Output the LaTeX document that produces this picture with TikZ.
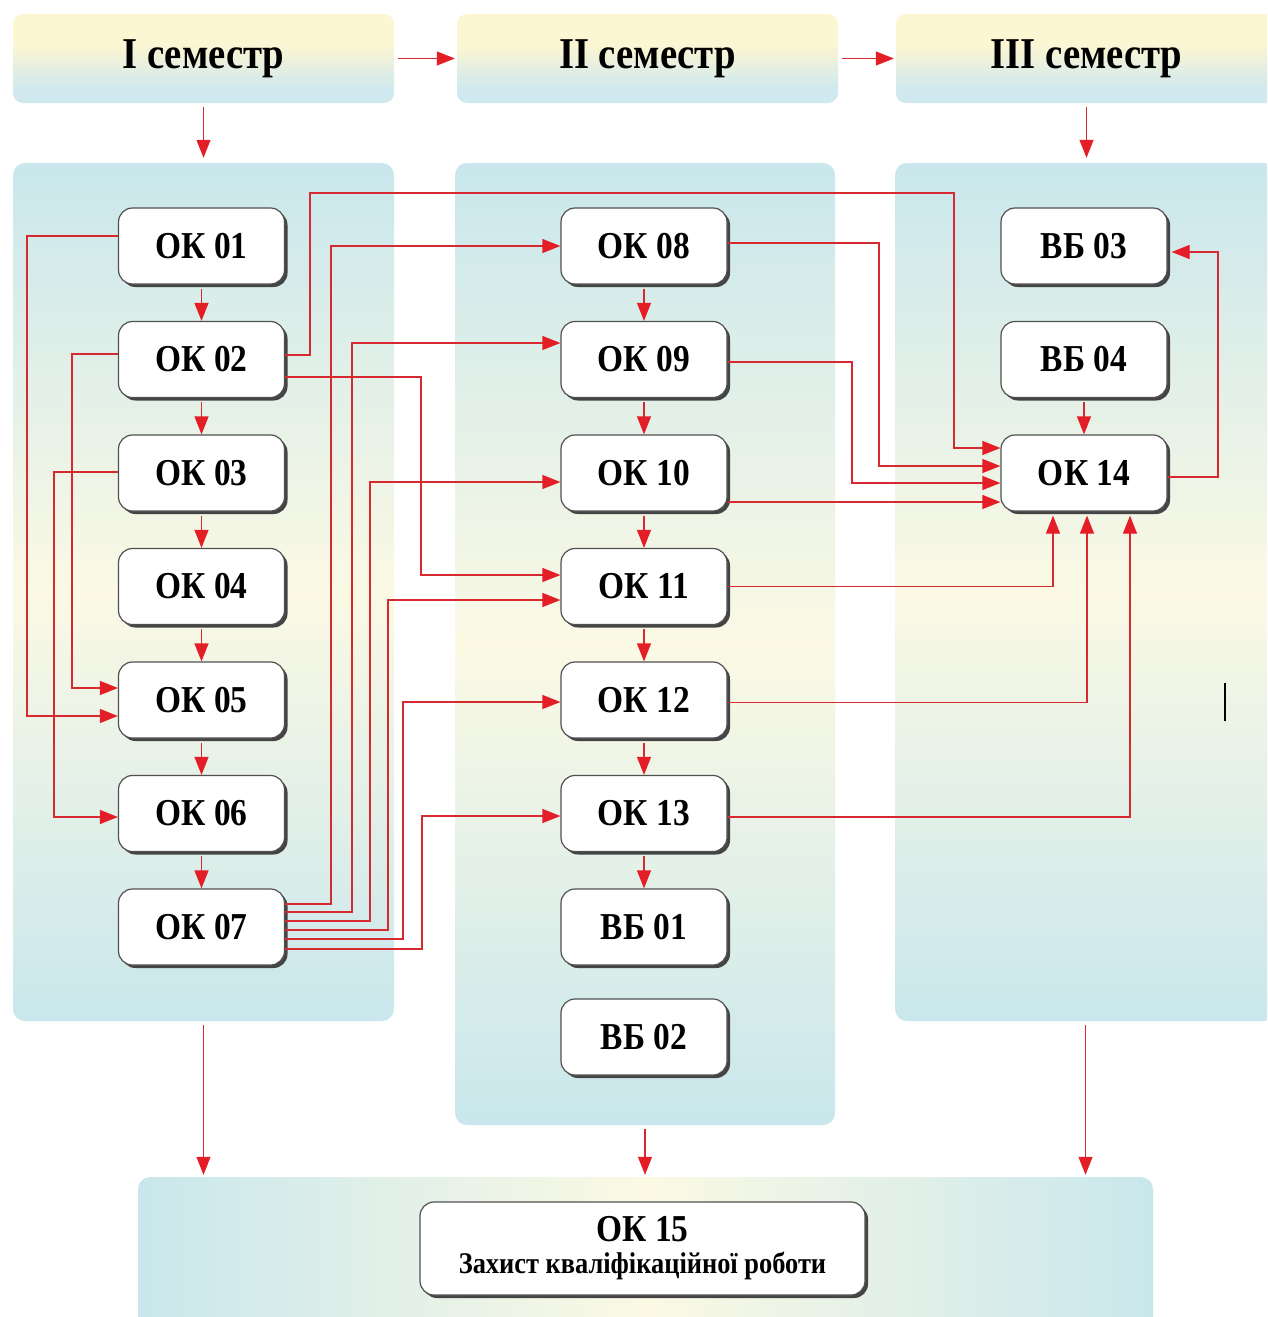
\documentclass[tikz,border=0pt]{standalone}
\usepackage{fontspec}
\setmainfont{Liberation Serif}[FakeStretch=0.88]
\usetikzlibrary{arrows.meta,shadows,calc}
\definecolor{hyel}{HTML}{FDF6D2}
\definecolor{hblu}{HTML}{CFE9EE}
\definecolor{pblu}{HTML}{C9E7EC}
\definecolor{pyel}{HTML}{FBF9E4}
\definecolor{lred}{HTML}{D62A30}
\definecolor{tred}{HTML}{E41E26}
\definecolor{bord}{HTML}{505050}
\pgfdeclareverticalshading{hdrshade}{100bp}{color(0bp)=(hblu); color(33bp)=(hblu); color(58bp)=(hyel); color(100bp)=(hyel)}
\pgfdeclareverticalshading{panshade}{100bp}{color(0bp)=(pblu); color(25bp)=(pblu); color(50bp)=(pyel); color(75bp)=(pblu); color(100bp)=(pblu)}
\pgfdeclarehorizontalshading{botshade}{100bp}{color(0bp)=(pblu); color(25bp)=(pblu); color(50bp)=(pyel); color(75bp)=(pblu); color(100bp)=(pblu)}
\tikzset{
  box/.style={draw=bord, line width=1.2pt, fill=white, rounded corners=14pt,
    minimum width=166pt, minimum height=76pt, inner sep=0pt,
    font=\fontsize{38}{40}\selectfont\bfseries,
    general shadow={fill=bord!85!black, shadow xshift=3pt, shadow yshift=-3pt}},
  hdr/.style={shading=hdrshade, rounded corners=10pt, minimum width=381pt,
    minimum height=89pt, inner sep=0pt, font=\fontsize{44}{48}\selectfont\bfseries},
  panel/.style={shading=panshade, rounded corners=12pt, inner sep=0pt, minimum width=381pt},
  conn/.style={draw=lred, line width=1.2pt, -{Triangle[length=18pt,width=14pt,color=tred]}},
  vconn/.style={conn, shorten <=4pt},
}
\begin{document}
\begin{tikzpicture}[x=1pt,y=-1pt]
\useasboundingbox (0,0) rectangle (1267,1317);
\clip (0,0) rectangle (1267,1317);
\fill[white] (0,0) rectangle (1267,1317);

% panels
\node[panel, minimum height=858pt] (p1) at (203.5,592) {};
\node[panel, minimum width=380pt, minimum height=962pt] (p2) at (645,644) {};
\node[panel, minimum height=858pt] (p3) at (1085.5,592) {};
\node[shading=botshade, rounded corners=12pt, inner sep=0pt, minimum width=1015pt, minimum height=170pt] (pb) at (645.5,1262) {};

% headers
\node[hdr] (h1) at (203.5,58.5) {I семестр};
\node[hdr] (h2) at (647.5,58.5) {II семестр};
\node[hdr] (h3) at (1086.5,58.5) {III семестр};

\draw[conn, shorten <=4pt, shorten >=2pt] (h1) -- (h2);
\draw[conn, shorten <=4pt, shorten >=2pt] (h2) -- (h3);
\draw[conn, shorten <=4pt, shorten >=5pt] (h1.south) -- (h1.south |- p1.north);
\draw[conn, shorten <=4pt, shorten >=5pt] (h3.south) -- (h3.south |- p3.north);
\draw[conn, shorten <=4pt, shorten >=2pt] (p1.south) -- (p1.south |- pb.north);
\draw[conn, shorten <=4pt, shorten >=2pt] (p2.south) -- (p2.south |- pb.north);
\draw[conn, shorten <=4pt, shorten >=2pt] (p3.south) -- (p3.south |- pb.north);

% boxes column 1
\node[box] (ok01) at (201.5,246) {ОК 01};
\node[box] (ok02) at (201.5,359.5) {ОК 02};
\node[box] (ok03) at (201.5,473) {ОК 03};
\node[box] (ok04) at (201.5,586.5) {ОК 04};
\node[box] (ok05) at (201.5,700) {ОК 05};
\node[box] (ok06) at (201.5,813.5) {ОК 06};
\node[box] (ok07) at (201.5,927) {ОК 07};
% column 2
\node[box] (ok08) at (644,246) {ОК 08};
\node[box] (ok09) at (644,359.5) {ОК 09};
\node[box] (ok10) at (644,473) {ОК 10};
\node[box] (ok11) at (644,586.5) {ОК 11};
\node[box] (ok12) at (644,700) {ОК 12};
\node[box] (ok13) at (644,813.5) {ОК 13};
\node[box] (vb01) at (644,927) {ВБ 01};
\node[box] (vb02) at (644,1037) {ВБ 02};
% column 3
\node[box] (vb03) at (1084,246) {ВБ 03};
\node[box] (vb04) at (1084,359.5) {ВБ 04};
\node[box] (ok14) at (1084,473) {ОК 14};
% final
\node[box, minimum width=445pt, minimum height=93pt, align=center] (ok15) at (642.5,1248.5)
  {ОК 15\\[-8pt]{\fontsize{30}{34}\selectfont Захист кваліфікаційної роботи}};

% vertical chains
\draw[vconn] (ok01) -- (ok02);
\draw[vconn] (ok02) -- (ok03);
\draw[vconn] (ok03) -- (ok04);
\draw[vconn] (ok04) -- (ok05);
\draw[vconn] (ok05) -- (ok06);
\draw[vconn] (ok06) -- (ok07);
\draw[vconn] (ok08) -- (ok09);
\draw[vconn] (ok09) -- (ok10);
\draw[vconn] (ok10) -- (ok11);
\draw[vconn] (ok11) -- (ok12);
\draw[vconn] (ok12) -- (ok13);
\draw[vconn] (ok13) -- (vb01);
\draw[vconn] (vb04) -- (ok14);

% left side of column 1
\draw[conn] ([yshift=10pt]ok01.west) -- (27,236) |- ([yshift=-16pt]ok05.west);
\draw[conn] ([yshift=5.5pt]ok02.west) -- (72,354) |- ([yshift=12pt]ok05.west);
\draw[conn] ([yshift=1pt]ok03.west) -- (54,472) |- ([yshift=-3.5pt]ok06.west);

% column 1 to column 2/3
\draw[conn] ([yshift=4.5pt]ok02.east) -- (310,355) |- (954,193) |- ([yshift=25pt]ok14.west);
\draw[conn] ([yshift=-17.5pt]ok02.east) -- (421,377) |- ([yshift=11.5pt]ok11.west);
\draw[conn] ([yshift=23pt]ok07.east) -- (331,904) |- (ok08.west);
\draw[conn] ([yshift=15pt]ok07.east) -- (352,912) |- ([yshift=16.5pt]ok09.west);
\draw[conn] ([yshift=6pt]ok07.east) -- (370,921) |- ([yshift=-9pt]ok10.west);
\draw[conn] ([yshift=-3pt]ok07.east) -- (388,930) |- ([yshift=-13.5pt]ok11.west);
\draw[conn] ([yshift=-12pt]ok07.east) -- (403,939) |- ([yshift=-2pt]ok12.west);
\draw[conn] ([yshift=-22pt]ok07.east) -- (422,949) |- ([yshift=-2.5pt]ok13.west);

% column 2 to OK 14
\draw[conn] ([yshift=3pt]ok08.east) -- (879,243) |- ([yshift=7pt]ok14.west);
\draw[conn] ([yshift=-2.5pt]ok09.east) -- (852,362) |- ([yshift=-10pt]ok14.west);
\draw[conn] ([yshift=-29pt]ok10.east) -- ([yshift=-29pt]ok14.west);
\draw[conn, shorten >=4pt] (ok11.east) -| ([xshift=-31pt]ok14.south);
\draw[conn, shorten >=4pt] ([yshift=-2.5pt]ok12.east) -| ([xshift=3pt]ok14.south);
\draw[conn, shorten >=4pt] ([yshift=-3.5pt]ok13.east) -| ([xshift=46pt]ok14.south);
\draw[conn, shorten >=4pt] ([yshift=-4pt]ok14.east) -- (1218,477) |- ([yshift=-6pt]vb03.east);

% stray mark
\draw[line width=2pt, black] (1225,683) -- (1225,721);
\end{tikzpicture}
\end{document}
